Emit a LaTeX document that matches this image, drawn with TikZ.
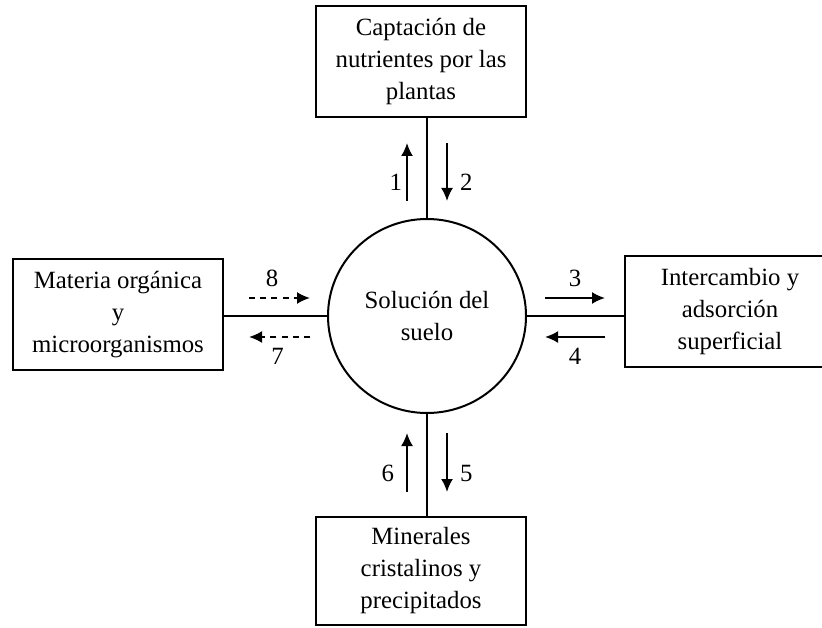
\documentclass[tikz,border=0pt]{standalone}
\usepackage{fontspec}
\setmainfont{Liberation Serif}
\usetikzlibrary{arrows.meta,shapes.geometric}

\begin{document}
\begin{tikzpicture}[x=0.5pt, y=0.5pt,
    every node/.style={font=\fontsize{12.4}{16}\selectfont},
    box/.style={draw, line width=1pt, minimum width=105pt, minimum height=55.5pt, align=center, inner sep=2pt},
    flow/.style={line width=1pt, -{Latex[length=6.5pt,width=6pt]}},
    dflow/.style={flow, dash pattern=on 3pt off 2.6pt},
    num/.style={inner sep=2pt}]
    \clip (0,0) rectangle (822,627);

    % Central solution
    \node[draw, ellipse, line width=1pt, minimum width=99pt, minimum height=97pt, align=center] (sol) at (427,311) {Solución del\\suelo};

    % Surrounding pools
    \node[box] (cap) at (421,565.5) {Captación de\\nutrientes por las\\plantas};
    \node[box, minimum height=54pt] (min) at (421,56) {Minerales\\cristalinos y\\precipitados};
    \node[box] (mat) at (118,312.5) {Materia orgánica\\y\\microorganismos};
    \node[box] (int) at (730,315.5) {Intercambio y\\adsorción\\superficial};

    % Links
    \draw[line width=1pt] (sol.north) -- (sol.north |- cap.south);
    \draw[line width=1pt] (sol.south) -- (sol.south |- min.north);
    \draw[line width=1pt] (sol.west) -- (sol.west -| mat.east);
    \draw[line width=1pt] (sol.east) -- (sol.east -| int.west);

    % Top fluxes
    \draw[flow] (407,426) -- (407,484) node[num, pos=0.32, left] {1};
    \draw[flow] (447,484) -- (447,426) node[num, pos=0.68, right=4pt] {2};

    % Bottom fluxes
    \draw[flow] (407,135) -- (407,194) node[num, pos=0.32, left=4pt] {6};
    \draw[flow] (447,194) -- (447,135) node[num, pos=0.68, right=4pt] {5};

    % Right fluxes
    \draw[flow] (545,329) -- (605,329) node[num, midway, above=3pt] {3};
    \draw[flow] (605,290) -- (545,290) node[num, midway, below=3pt] {4};

    % Left fluxes
    \draw[dflow] (249,329) -- (310,329) node[num, pos=0.38, above=3pt] {8};
    \draw[dflow] (310,290) -- (249,290) node[num, pos=0.53, below=3pt] {7};
\end{tikzpicture}
\end{document}
